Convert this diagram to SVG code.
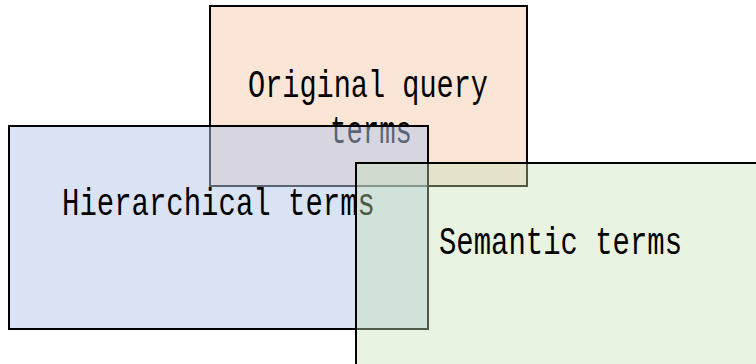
<svg xmlns="http://www.w3.org/2000/svg" width="756" height="364" viewBox="0 0 756 364">
  <style>
    .box { stroke: #000; stroke-width: 2; }
    .lbl { font-family: "Liberation Mono", "DejaVu Sans Mono", monospace; font-size: 38px; fill: #000; }
  </style>
  <rect width="756" height="364" fill="#fff"/>
  <g id="original">
    <rect class="box" x="210" y="6" width="317" height="180" fill="#fbe5d6"/>
    <text class="lbl" x="248" y="97" textLength="240" lengthAdjust="spacingAndGlyphs">Original query</text>
    <text class="lbl" x="330" y="143" textLength="82" lengthAdjust="spacingAndGlyphs">terms</text>
  </g>
  <g id="hierarchical">
    <rect class="box" x="9" y="126" width="419" height="203" fill="#b4c7e7" fill-opacity="0.5"/>
    <text class="lbl" x="62" y="215" textLength="313" lengthAdjust="spacingAndGlyphs">Hierarchical terms</text>
  </g>
  <g id="semantic">
    <rect class="box" x="356" y="163" width="420" height="220" fill="#c5e0b4" fill-opacity="0.4"/>
    <text class="lbl" x="439" y="254" textLength="243" lengthAdjust="spacingAndGlyphs">Semantic terms</text>
  </g>
  <g id="connectors"/>
</svg>
